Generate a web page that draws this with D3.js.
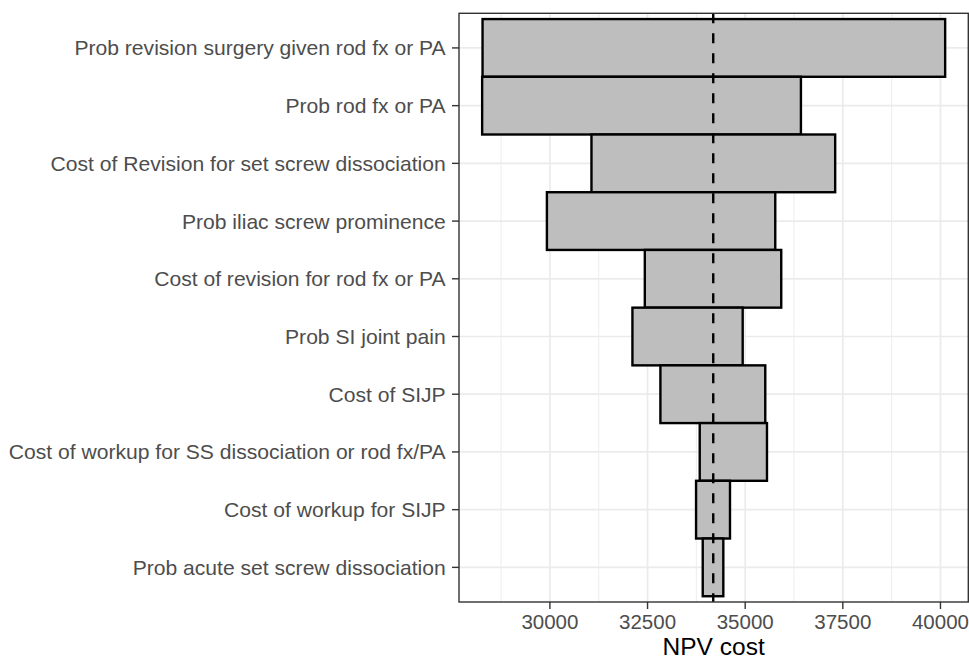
<!DOCTYPE html>
<html>
<head>
<meta charset="utf-8">
<script src="https://cdn.jsdelivr.net/npm/d3@7/dist/d3.min.js"></script>
<style>
  html, body { margin: 0; padding: 0; background: #fff; }
  svg { display: block; }
</style>
</head>
<body>
<svg id="chart" width="969" height="660"></svg>
<script>
// Parameters, top to bottom
const categories = [
  "Prob revision surgery given rod fx or PA",
  "Prob rod fx or PA",
  "Cost of Revision for set screw dissociation",
  "Prob iliac screw prominence",
  "Cost of revision for rod fx or PA",
  "Prob SI joint pain",
  "Cost of SIJP",
  "Cost of workup for SS dissociation or rod fx/PA",
  "Cost of workup for SIJP",
  "Prob acute set screw dissociation"
];
const lowValues  = [28275, 28265, 31064, 29923, 32430, 32113, 32829, 33836, 33742, 33913];
const highValues = [40120, 36427, 37304, 35770, 35923, 34936, 35514, 35558, 34611, 34440];
const baseValue = 34182;
const xTicks = [30000, 32500, 35000, 37500, 40000];
const xMinorTicks = [28750, 31250, 33750, 36250, 38750];
const xTitle = "NPV cost";

const svg = d3.select("#chart");
const panel = { left: 459, right: 968.3, top: 13.3, bottom: 602 };

const dataMin = d3.min(lowValues), dataMax = d3.max(highValues);
const pad = (dataMax - dataMin) * 0.05;
const x = d3.scaleLinear().domain([dataMin - pad, dataMax + pad]).range([panel.left, panel.right]);
const y = d3.scalePoint().domain(categories).range([panel.top, panel.bottom]).padding(0.6);
const step = y.step();

const font = "'Liberation Sans', Arial, Helvetica, sans-serif";

// grid
const g = svg.append("g");
g.selectAll("line.minor").data(xMinorTicks).enter().append("line")
  .attr("x1", d => x(d)).attr("x2", d => x(d))
  .attr("y1", panel.top).attr("y2", panel.bottom)
  .attr("stroke", "#EBEBEB").attr("stroke-width", 0.9);
g.selectAll("line.majorx").data(xTicks).enter().append("line")
  .attr("x1", d => x(d)).attr("x2", d => x(d))
  .attr("y1", panel.top).attr("y2", panel.bottom)
  .attr("stroke", "#EBEBEB").attr("stroke-width", 1.7);
g.selectAll("line.majory").data(categories).enter().append("line")
  .attr("x1", panel.left).attr("x2", panel.right)
  .attr("y1", d => y(d)).attr("y2", d => y(d))
  .attr("stroke", "#EBEBEB").attr("stroke-width", 1.7);

// bars
const rows = categories.map((c, i) => ({ c, lo: lowValues[i], hi: highValues[i] }));
svg.append("g").selectAll("rect").data(rows).enter().append("rect")
  .attr("x", d => x(d.lo))
  .attr("width", d => x(d.hi) - x(d.lo))
  .attr("y", d => y(d.c) - step / 2)
  .attr("height", step)
  .attr("fill", "#BEBEBE")
  .attr("stroke", "#000")
  .attr("stroke-width", 2.4);

// base line
svg.append("line")
  .attr("x1", x(baseValue)).attr("x2", x(baseValue))
  .attr("y1", panel.top).attr("y2", panel.bottom)
  .attr("stroke", "#000").attr("stroke-width", 2.4)
  .attr("stroke-dasharray", "10,10");

// panel border
svg.append("rect")
  .attr("x", panel.left).attr("y", panel.top)
  .attr("width", panel.right - panel.left).attr("height", panel.bottom - panel.top)
  .attr("fill", "none").attr("stroke", "#333333").attr("stroke-width", 1.4);

// y axis ticks + labels
const yAxis = svg.append("g");
yAxis.selectAll("line").data(categories).enter().append("line")
  .attr("x1", panel.left - 7).attr("x2", panel.left)
  .attr("y1", d => y(d)).attr("y2", d => y(d))
  .attr("stroke", "#333333").attr("stroke-width", 1.4);
yAxis.selectAll("text").data(categories).enter().append("text")
  .attr("x", panel.left - 13.3)
  .attr("y", d => y(d) + 7.5)
  .attr("text-anchor", "end")
  .attr("font-family", font).attr("font-size", 21.1)
  .attr("fill", "#4D4D4D")
  .text(d => d);

// x axis ticks + labels
const xAxis = svg.append("g");
xAxis.selectAll("line").data(xTicks).enter().append("line")
  .attr("x1", d => x(d)).attr("x2", d => x(d))
  .attr("y1", panel.bottom).attr("y2", panel.bottom + 7)
  .attr("stroke", "#333333").attr("stroke-width", 1.4);
xAxis.selectAll("text").data(xTicks).enter().append("text")
  .attr("x", d => x(d))
  .attr("y", 628.5)
  .attr("text-anchor", "middle")
  .attr("font-family", font).attr("font-size", 20.5)
  .attr("fill", "#4D4D4D")
  .text(d => d);

svg.append("text")
  .attr("x", (panel.left + panel.right) / 2)
  .attr("y", 654.5)
  .attr("text-anchor", "middle")
  .attr("font-family", font).attr("font-size", 24.5)
  .attr("fill", "#000")
  .text(xTitle);
</script>
</body>
</html>
